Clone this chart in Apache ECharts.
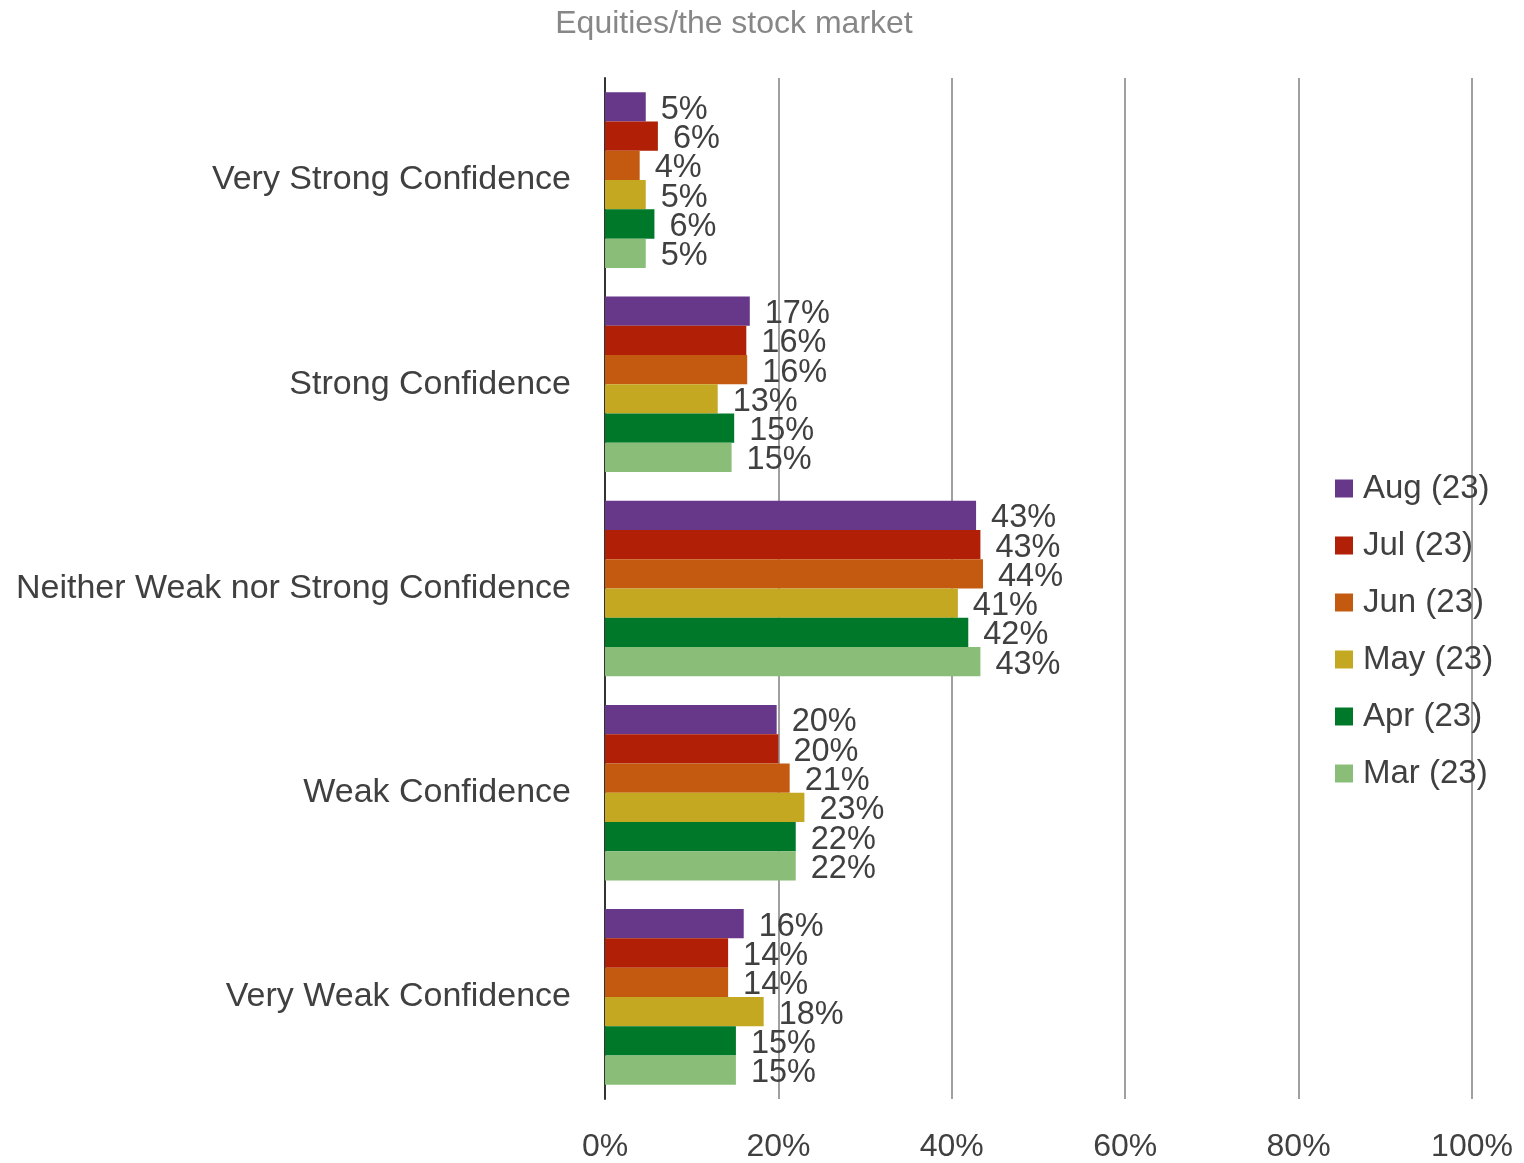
<!DOCTYPE html>
<html>
<head>
<meta charset="utf-8">
<script src="https://cdn.jsdelivr.net/npm/echarts@6/dist/echarts.min.js"></script>
<style>
  html, body { margin: 0; padding: 0; background: #fff; }
  #chart { width: 1524px; height: 1163px; }
</style>
</head>
<body>
<div id="chart"></div>
<script>
// categories, top to bottom
var categories = ["Very Strong Confidence", "Strong Confidence", "Neither Weak nor Strong Confidence", "Weak Confidence", "Very Weak Confidence"];
var seriesNames = ["Aug (23)", "Jul (23)", "Jun (23)", "May (23)", "Apr (23)", "Mar (23)"];
var colors = ["#67378A", "#B01F06", "#C45A10", "#C4A822", "#00782A", "#8ABE78"];

// percent values per month, one entry per category
var aug = [4.7, 16.7, 42.8, 19.8, 16.0];
var jul = [6.1, 16.3, 43.3, 20.0, 14.2];
var jun = [4.0, 16.4, 43.6, 21.3, 14.2];
var may = [4.7, 13.0, 40.7, 23.0, 18.3];
var apr = [5.7, 14.9, 41.9, 22.0, 15.1];
var mar = [4.7, 14.6, 43.3, 22.0, 15.1];
var values = [aug, jul, jun, may, apr, mar];

var font = "Liberation Sans, Arial, sans-serif";

var myChart = echarts.init(document.getElementById("chart"));

var series = seriesNames.map(function (name, i) {
  return {
    name: name,
    type: "bar",
    data: values[i],
    barGap: "0%",
    barCategoryGap: "14%",
    itemStyle: { color: colors[i] },
    label: {
      show: true,
      position: "right",
      distance: 15,
      offset: [0, 3],
      color: "#404040",
      fontSize: 32.5,
      fontFamily: font,
      formatter: function (p) { return Math.round(p.value) + "%"; }
    }
  };
});

myChart.setOption({
  animation: false,
  title: {
    text: "Equities/the stock market",
    left: 729,
    textAlign: "center",
    top: 3,
    textStyle: { color: "#878787", fontSize: 32, fontWeight: "normal", fontFamily: font }
  },
  legend: {
    orient: "vertical",
    left: 1330,
    top: 467,
    itemWidth: 18,
    itemHeight: 18,
    itemGap: 24,
    icon: "rect",
    data: seriesNames,
    textStyle: { color: "#404040", fontSize: 33, fontFamily: font, padding: [0, 0, 0, 5] }
  },
  grid: { left: 605, right: 52, top: 78, bottom: 61, containLabel: false },
  xAxis: {
    type: "value",
    min: 0,
    max: 100,
    interval: 20,
    axisLine: { show: false },
    axisTick: { show: false },
    splitLine: { lineStyle: { color: "#A0A0A0", width: 2 } },
    axisLabel: {
      margin: 32,
      color: "#404040",
      fontSize: 32,
      fontFamily: font,
      formatter: "{value}%"
    }
  },
  yAxis: {
    type: "category",
    inverse: true,
    data: categories,
    axisLine: { show: true, lineStyle: { color: "#333", width: 2 } },
    axisTick: { show: false },
    axisLabel: {
      margin: 34,
      color: "#404040",
      fontSize: 34,
      fontFamily: font,
      padding: [6, 0, 0, 0]
    }
  },
  series: series
});
</script>
</body>
</html>
